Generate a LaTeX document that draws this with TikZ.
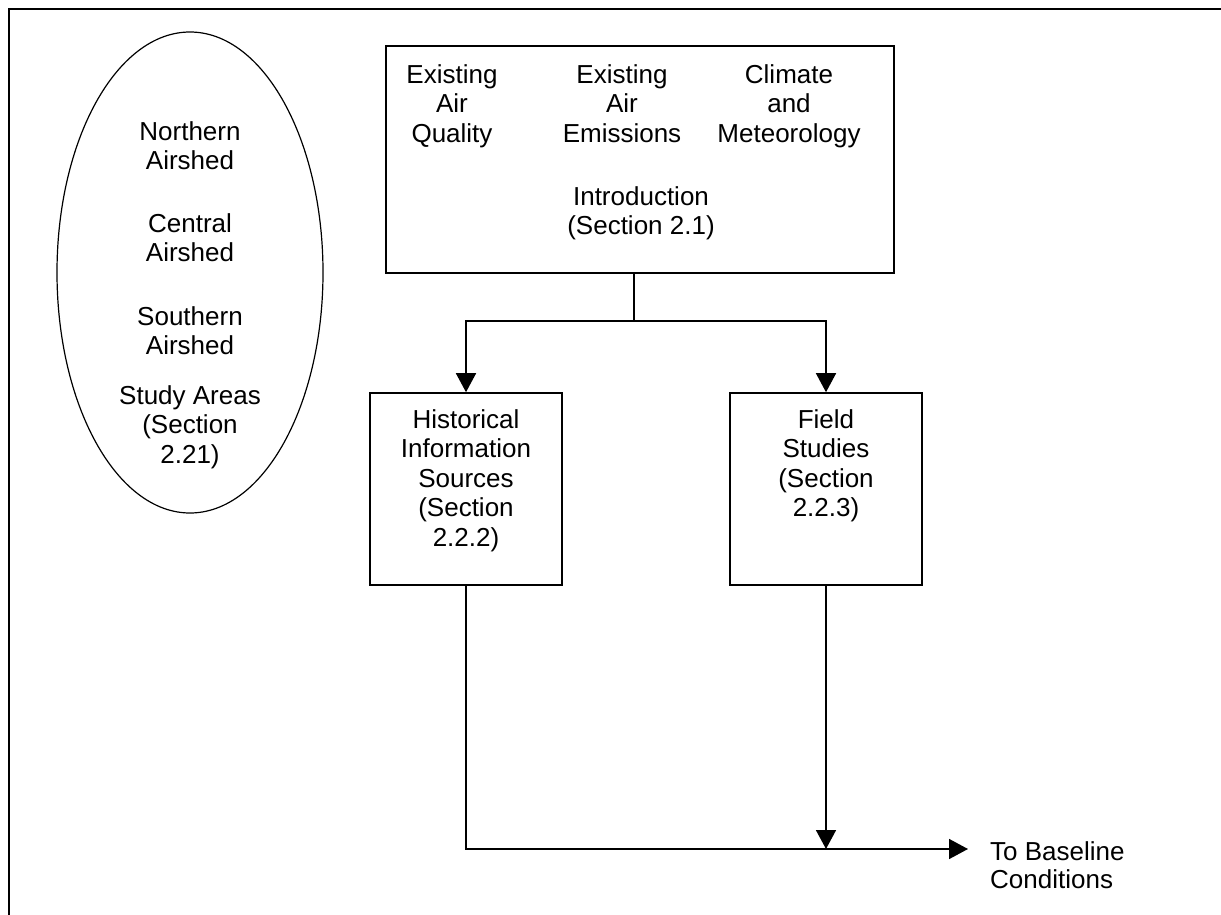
\documentclass[tikz,border=0pt]{standalone}
\usepackage{fontspec}
\setmainfont{Liberation Sans}
\usetikzlibrary{shapes.geometric,arrows.meta}
\tikzset{
  lbl/.style={font=\fontsize{26}{29.5}\selectfont, align=center, inner sep=0pt, anchor=north},
  lbll/.style={font=\fontsize{26}{28}\selectfont, align=left, inner sep=0pt, anchor=north west},
  box/.style={draw, line width=1.6pt, rectangle, inner sep=0pt},
  conn/.style={line width=1.6pt},
  arr/.style={line width=1.6pt, -{Triangle[length=19pt,width=20pt]}},
  frame/.style={line width=2.6pt}
}
\begin{document}
\begin{tikzpicture}[x=1pt,y=-1pt]
\useasboundingbox (0,0) rectangle (1221,915);
% frame (top and left edges only)
\coordinate (fbl) at (9,915);
\coordinate (ftl) at (9,9);
\coordinate (ftr) at (1221,9);
\draw[frame] (fbl) -- (ftl) -- (ftr);

% ellipse
\node[draw, ellipse, line width=1.2pt, inner sep=0pt, minimum width=266pt, minimum height=481pt] (areas) at (190,272.5) {};
\node[lbl] (north) at (190,121) {Northern\\Airshed};
\node[lbl] (central) at (190,213) {Central\\Airshed};
\node[lbl] (south) at (190,306) {Southern\\Airshed};
\node[lbl] (study) at (190,385) {Study Areas\\(Section\\2.21)};

% top box
\node[box, minimum width=508pt, minimum height=227pt] (intro) at (640,159.5) {};
\node[lbl] (eaq) at (452,64) {Existing\\Air\\Quality};
\node[lbl] (eae) at (622,64) {Existing\\Air\\Emissions};
\node[lbl] (cm) at (789,64) {Climate\\and\\Meteorology};
\node[lbl] (introtxt) at (641,186) {Introduction\\(Section 2.1)};

% lower boxes
\node[box, minimum width=192pt, minimum height=192pt] (hist) at (466,489) {};
\node[lbl] (histtxt) at (466,409) {Historical\\Information\\Sources\\(Section\\2.2.2)};
\node[box, minimum width=192pt, minimum height=192pt] (field) at (826,489) {};
\node[lbl] (fieldtxt) at (826,409) {Field\\Studies\\(Section\\2.2.3)};

% connectors
\coordinate (split) at (634,321);
\draw[conn] (split |- intro.south) -- (split);
\draw[arr] (split) -| (hist.north);
\draw[arr] (split) -| (field.north);

\coordinate (end) at (968,849);
\draw[arr] (hist.south) |- (end);
\draw[arr] (field.south) -- (field.south |- end);

\node[lbll] (baseline) at (990,841) {To Baseline\\Conditions};
\end{tikzpicture}
\end{document}
